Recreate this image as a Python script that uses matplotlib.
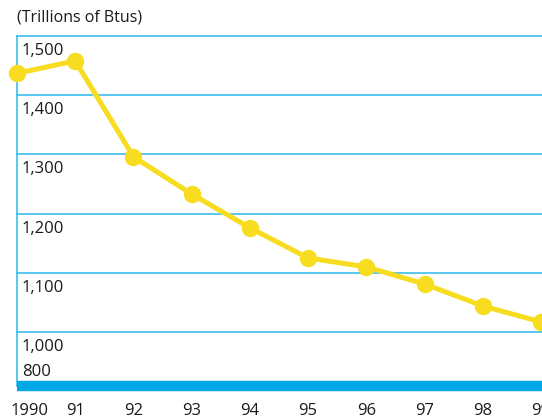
import matplotlib
matplotlib.use("Agg")
import matplotlib.pyplot as plt
import matplotlib.transforms as mtransforms

# -------------------------------------------------
# DATA
# -------------------------------------------------
years = [1990, 1991, 1992, 1993, 1994, 1995, 1996, 1997, 1998, 1999]
year_labels = ["1990", "91", "92", "93", "94", "95", "96", "97", "98", "99"]
btus = [1437, 1458, 1296, 1233, 1176, 1125, 1110, 1081, 1044, 1017]

grid_values = [1500, 1400, 1300, 1200, 1100, 1000]
grid_labels = ["1,500", "1,400", "1,300", "1,200", "1,100", "1,000"]
break_label = "800"

BLUE_GRID = "#3dbdec"
BLUE_BAR = "#00a8e6"
YELLOW = "#f7dc1f"
TEXT = "#1a1a1a"

plt.rcParams["font.family"] = ["Open Sans", "DejaVu Sans"]

W, H = 542, 418
fig = plt.figure(figsize=(W / 100, H / 100), dpi=100)

# axes box in pixels
x0, x1 = 17, 542
y_top, y_bot = 36, 386
ax = fig.add_axes([x0 / W, (H - y_bot) / H, (x1 - x0) / W, (y_bot - y_top) / H])

px_per_100 = 59.2
ax.set_ylim(1000 - (y_bot - 332) / px_per_100 * 100, 1500)
ax.set_xlim(1990, 1999 + (x1 - 541) / 58.2)

# -------------------------------------------------
# GRID + FRAME
# -------------------------------------------------
for v in grid_values:
    ax.axhline(v, color=BLUE_GRID, lw=1.2, clip_on=False, zorder=1)

for s in ["top", "right"]:
    ax.spines[s].set_visible(False)
ax.spines["left"].set_color(BLUE_GRID)
ax.spines["left"].set_linewidth(1.2)
ax.spines["bottom"].set_color(BLUE_BAR)
ax.spines["bottom"].set_linewidth(7.5)
ax.spines["bottom"].set_capstyle("butt")

# -------------------------------------------------
# LINE
# -------------------------------------------------
ax.plot(years, btus, color=YELLOW, lw=3.6, marker="o", ms=11.5,
        clip_on=False, zorder=3)

# -------------------------------------------------
# LABELS
# -------------------------------------------------
ax.set_yticks([])
lab_tr = mtransforms.blended_transform_factory(ax.transAxes, ax.transData)
off = mtransforms.ScaledTranslation(5 / 100, -15 / 100, fig.dpi_scale_trans)
for v, lab in zip(grid_values, grid_labels):
    ax.text(0, v, lab, transform=lab_tr + off, ha="left", va="center",
            fontsize=12, color=TEXT)
ax.text(5 / (x1 - x0), 14 / (y_bot - y_top), break_label, transform=ax.transAxes,
        ha="left", va="center", fontsize=12, color=TEXT)

ax.set_xticks(years)
ax.set_xticklabels(year_labels, fontsize=12, color=TEXT)
ax.tick_params(axis="x", length=0, pad=12)
first = ax.get_xticklabels()[0]
first.set_transform(first.get_transform()
                    + mtransforms.ScaledTranslation(13 / 100, 0, fig.dpi_scale_trans))

fig.text(x0 / W, 1 - 18 / H, "(Trillions of Btus)", ha="left", va="center",
         fontsize=11.5, color=TEXT)

fig.savefig("out.png", dpi=100)
